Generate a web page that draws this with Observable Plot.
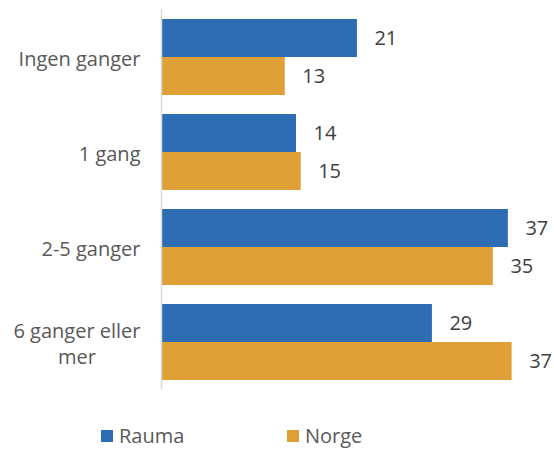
<!DOCTYPE html>
<html>
<head>
<meta charset="utf-8">
<script src="https://cdn.jsdelivr.net/npm/d3@7"></script>
<script src="https://cdn.jsdelivr.net/npm/@observablehq/plot@0.6"></script>
<style>
  body { margin: 0; background: #fff; font-family: "Open Sans", sans-serif; overflow: hidden; }
  #legend { height: 31px; font-size: 20px; color: #595959; }
  .item { position: absolute; top: 3px; display: flex; align-items: center; line-height: 26px; }
  .sw { width: 12px; height: 12px; margin-right: 6px; }
</style>
</head>
<body>
<div id="chart"></div>
<div id="legend" style="position:relative"></div>
<script>
const categories = ["Ingen ganger", "1 gang", "2-5 ganger", "6 ganger eller mer"];
const categoryLabels = ["Ingen ganger", "1 gang", "2-5 ganger", "6 ganger eller\nmer"];
const series = ["Rauma", "Norge"];
const rauma = [20.9, 14.4, 37.0, 28.9];
const norge = [13.2, 14.9, 35.4, 37.4];
const colors = ["#2E6DB4", "#E0A038"];

const data = [];
categories.forEach((c, i) => {
  data.push({cat: c, series: "Rauma", value: rauma[i]});
  data.push({cat: c, series: "Norge", value: norge[i]});
});
const labelData = categories.map((c, i) => ({cat: c, label: categoryLabels[i]}));

const plot = Plot.plot({
  width: 554,
  height: 420,
  marginLeft: 161,
  marginRight: 18,
  marginTop: 8,
  marginBottom: 29,
  style: {fontFamily: "Open Sans, sans-serif", fontSize: "20px", color: "#595959", background: "#fff"},
  x: {domain: [0, 40], axis: null},
  fy: {domain: categories, paddingInner: 0.2, paddingOuter: 0.1, axis: null},
  y: {domain: series, padding: 0, axis: null},
  color: {domain: series, range: colors},
  marks: [
    Plot.barX(data, {fy: "cat", y: "series", x: "value", fill: "series"}),
    Plot.ruleX([0], {stroke: "#d9d9d9", strokeWidth: 1.5, insetTop: -9.6, insetBottom: -9.6}),
    Plot.text(data, {fy: "cat", y: "series", x: "value", text: d => d3.format(".0f")(d.value),
      textAnchor: "start", dx: 17, fill: "#404040", fontSize: 20}),
    Plot.text(labelData, {fy: "cat", frameAnchor: "left", text: "label", textAnchor: "end",
      dx: -21, fill: "#595959", fontSize: 20, lineHeight: 1.33})
  ]
});
document.getElementById("chart").appendChild(plot);

// center lines of wrapped category labels within their block (right aligned block)
plot.querySelectorAll("text").forEach(t => {
  const spans = t.querySelectorAll("tspan");
  if (spans.length > 1) {
    let maxW = 0;
    spans.forEach(s => { maxW = Math.max(maxW, s.getComputedTextLength()); });
    t.setAttribute("text-anchor", "middle");
    spans.forEach(s => s.setAttribute("x", -maxW / 2));
  }
});

const legend = document.getElementById("legend");
const lx = [101, 287];
series.forEach((s, i) => {
  const it = document.createElement("div");
  it.className = "item";
  it.style.left = lx[i] + "px";
  it.innerHTML = `<div class="sw" style="background:${colors[i]}"></div><span>${s}</span>`;
  legend.appendChild(it);
});
</script>
</body>
</html>
